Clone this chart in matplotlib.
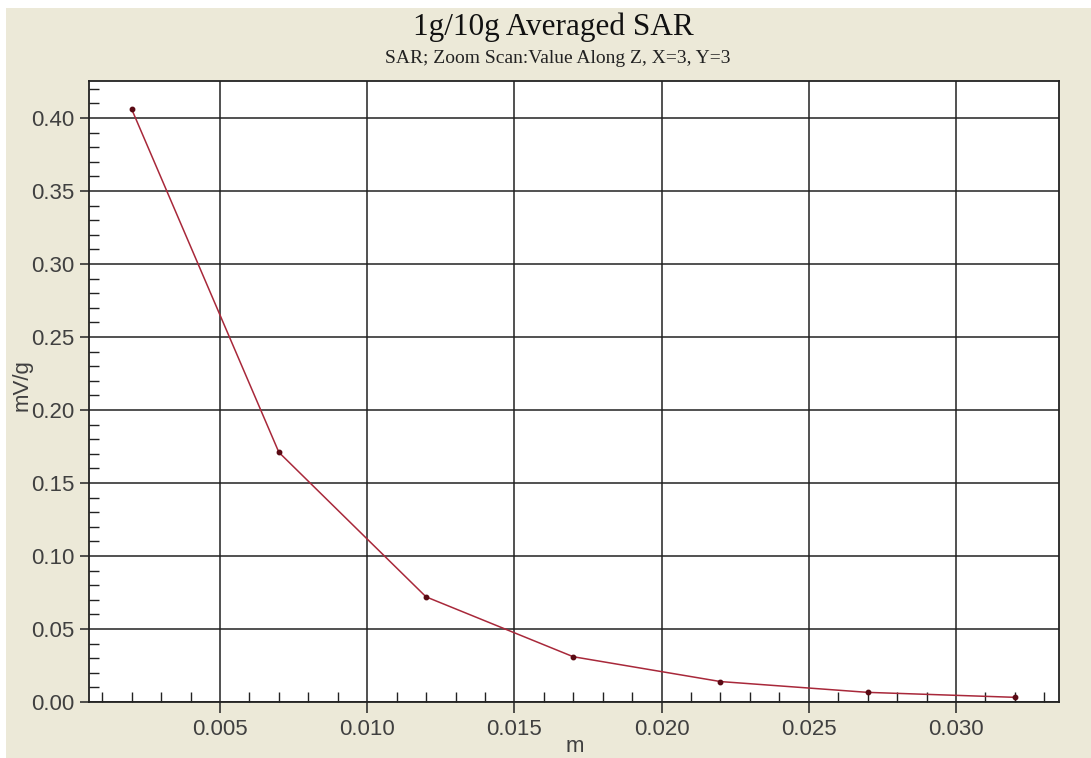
import matplotlib
matplotlib.use("Agg")
import matplotlib.pyplot as plt
from matplotlib.patches import Rectangle
from matplotlib.ticker import MultipleLocator, FormatStrFormatter

# Data
z_m = [0.002, 0.007, 0.012, 0.017, 0.022, 0.027, 0.032]
sar_mwg = [0.406, 0.171, 0.072, 0.031, 0.014, 0.0066, 0.0032]

title = "1g/10g Averaged SAR"
subtitle = "SAR; Zoom Scan:Value Along Z, X=3, Y=3"
xlabel = "m"
ylabel = "mV/g"

W, H = 1091, 758
fig = plt.figure(figsize=(W / 100, H / 100), dpi=100)
fig.patch.set_facecolor("#ECE9D8")
# white margins at top and left
fig.patches.append(Rectangle((0, 1 - 8 / H), 1, 8 / H, transform=fig.transFigure,
                             facecolor="white", edgecolor="none", zorder=0))
fig.patches.append(Rectangle((0, 0), 6 / W, 1, transform=fig.transFigure,
                             facecolor="white", edgecolor="none", zorder=0))

left, right, top, bottom = 89, 1059, 81, 702
ax = fig.add_axes([left / W, 1 - bottom / H, (right - left) / W, (bottom - top) / H])
ax.set_facecolor("white")

ax.plot(z_m, sar_mwg, color="#A8283A", lw=1.1, marker="o", ms=3.2,
        mfc="#5A0A14", mec="#5A0A14", zorder=3)

ax.set_xlim(0.00055, 0.0335)
ax.set_ylim(0.0, 0.4253)

ax.xaxis.set_major_locator(MultipleLocator(0.005))
ax.xaxis.set_minor_locator(MultipleLocator(0.001))
ax.yaxis.set_major_locator(MultipleLocator(0.05))
ax.yaxis.set_minor_locator(MultipleLocator(0.01))
ax.xaxis.set_major_formatter(FormatStrFormatter("%.3f"))
ax.yaxis.set_major_formatter(FormatStrFormatter("%.2f"))

ax.grid(True, which="major", color="#222222", lw=1.1, zorder=1)
for s in ax.spines.values():
    s.set_color("#222222")
    s.set_linewidth(1.3)

ax.tick_params(axis="x", which="major", direction="out", length=8, width=1.1,
               color="#222222", labelsize=16, labelcolor="#404040", pad=4)
ax.tick_params(axis="x", which="minor", direction="in", length=7.5, width=1.0,
               color="#222222")
ax.tick_params(axis="y", which="major", direction="out", length=6.5, width=1.1,
               color="#222222", labelsize=16, labelcolor="#404040", pad=4)
ax.tick_params(axis="y", which="minor", direction="in", length=7.5, width=1.0,
               color="#222222")
for lab in ax.get_xticklabels() + ax.get_yticklabels():
    lab.set_family("Liberation Sans")

fig.text(553 / W, 1 - 35 / H, title, ha="center", va="baseline",
         family="Liberation Serif", fontsize=22.5, color="#111111")
fig.text(558 / W, 1 - 63 / H, subtitle, ha="center", va="baseline",
         family="Liberation Serif", fontsize=14, color="#222222")
fig.text(22 / W, 1 - 385 / H, ylabel, ha="center", va="center", rotation=90,
         family="Liberation Sans", fontsize=16, color="#404040")
fig.text(575 / W, 1 - 757 / H, xlabel, ha="center", va="bottom",
         family="Liberation Sans", fontsize=16, color="#404040")

fig.savefig("out.png", dpi=100, facecolor=fig.get_facecolor())
